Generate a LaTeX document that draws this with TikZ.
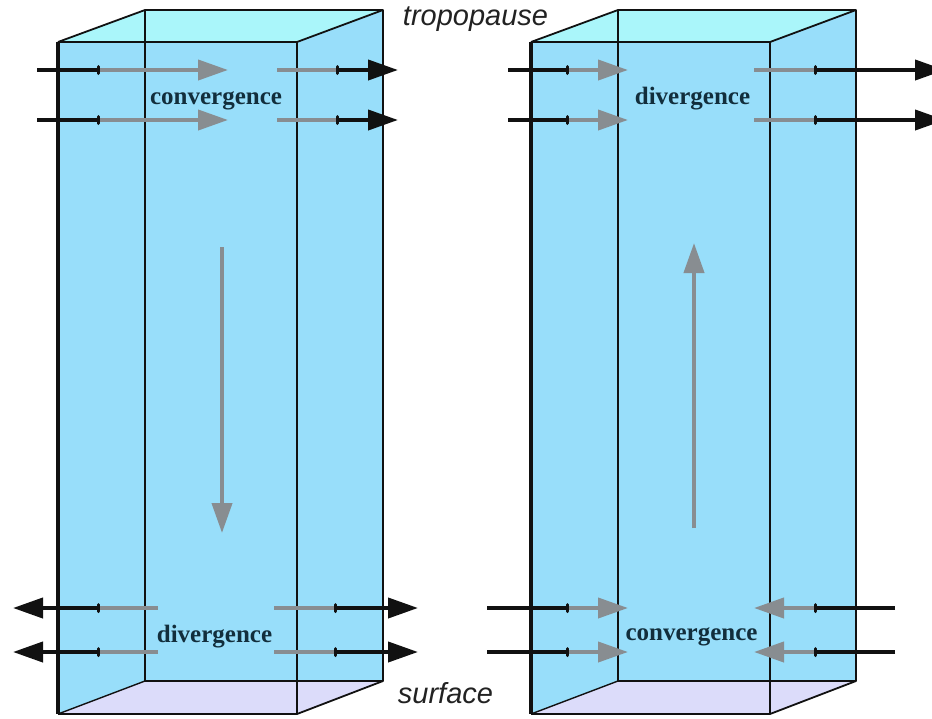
\documentclass[tikz,border=0pt]{standalone}
\usepackage{fontspec}
\setmainfont{Liberation Serif}
\setsansfont{Liberation Sans}
\usetikzlibrary{arrows.meta}
\definecolor{boxblue}{RGB}{152,222,250}
\definecolor{topcyan}{RGB}{170,246,250}
\definecolor{botlav}{RGB}{220,220,250}
\definecolor{flowgray}{RGB}{136,141,145}
\definecolor{flowblack}{RGB}{17,17,17}
\definecolor{labelcol}{RGB}{18,46,60}
\definecolor{italcol}{RGB}{34,34,34}
\tikzset{
  edgefront/.style={draw=flowblack, line width=1.8pt, line join=round},
  edgeback/.style={draw=flowblack, line width=1.4pt},
  edgethick/.style={draw=flowblack, line width=3.2pt},
  blk/.style={draw=flowblack, line width=4pt},
  gry/.style={draw=flowgray, line width=4pt},
  blkhead/.style={-{Triangle[length=30pt,width=20pt]}},
  tickmark/.style={draw=flowblack, line width=3pt, line cap=round},
  lbl/.style={font=\fontsize{25}{30}\selectfont\bfseries, text=labelcol, inner sep=0pt, anchor=base},
  itl/.style={font=\sffamily\itshape\fontsize{29}{34}\selectfont, text=italcol, inner sep=0pt, anchor=base},
  pics/column/.style={code={
    \fill[boxblue] (0,42) -- (87,10) -- (325,10) -- (325,681) -- (239,714) -- (0,714) -- cycle;
    \fill[topcyan] (0,42) -- (87,10) -- (325,10) -- (239,42) -- cycle;
    \fill[botlav] (0,714) -- (87,681) -- (325,681) -- (239,714) -- cycle;
    \draw[edgeback] (87,10) -- (87,681) -- (325,681);
    \draw[edgeback] (0,714) -- (87,681);
    \draw[edgefront] (0,42) -- (87,10) -- (325,10) -- (325,681) -- (239,714);
    \draw[edgefront] (239,42) -- (325,10);
    \draw[edgefront] (0,42) -- (239,42) -- (239,714) -- (0,714);
    \draw[edgethick] (0,42) -- (0,714);
  }}
}
\begin{document}
\begin{tikzpicture}[x=1pt, y=-1pt]
\useasboundingbox (0,0) rectangle (932,718);
% boxes
\pic at (58,0) {column};
\pic at (531,0) {column};

% ---------- left column: top convergence ----------
\foreach \yy/\nm in {70/a,120/b} {
  \coordinate (L\nm1) at (37,\yy);
  \coordinate (L\nm2) at (98,\yy);
  \coordinate (L\nm3) at (228,\yy);
  \coordinate (L\nm4) at (277,\yy);
  \coordinate (L\nm5) at (337,\yy);
  \coordinate (L\nm6) at (398,\yy);
  \draw[blk] (L\nm1) -- (L\nm2);
  \draw[gry, -{Triangle[length=30pt,width=20pt]}] (L\nm2) -- (L\nm3);
  \draw[gry] (L\nm4) -- (L\nm5);
  \draw[blk, blkhead] (L\nm5) -- (L\nm6);
  \draw[tickmark] ([yshift=3.5pt]L\nm2) -- ([yshift=-3.5pt]L\nm2);
  \draw[tickmark] ([yshift=3.5pt]L\nm5) -- ([yshift=-3.5pt]L\nm5);
}
\node[lbl] (lconv) at (216,104) {convergence};

% ---------- left column: bottom divergence ----------
\foreach \yy/\nm in {608/c,652/d} {
  \coordinate (L\nm1) at (13,\yy);
  \coordinate (L\nm2) at (98,\yy);
  \coordinate (L\nm3) at (158,\yy);
  \coordinate (L\nm4) at (274,\yy);
  \coordinate (L\nm5) at (335,\yy);
  \coordinate (L\nm6) at (418,\yy);
  \draw[blk, blkhead] (L\nm2) -- (L\nm1);
  \draw[gry] (L\nm2) -- (L\nm3);
  \draw[gry] (L\nm4) -- (L\nm5);
  \draw[blk, blkhead] (L\nm5) -- (L\nm6);
  \draw[tickmark] ([yshift=3.5pt]L\nm2) -- ([yshift=-3.5pt]L\nm2);
  \draw[tickmark] ([yshift=3.5pt]L\nm5) -- ([yshift=-3.5pt]L\nm5);
}
\node[lbl] (ldiv) at (214.5,642) {divergence};

% left vertical (sinking)
\coordinate (lvs) at (222,247);
\coordinate (lve) at (222,533);
\draw[gry, -{Triangle[length=30pt,width=20pt]}] (lvs) -- (lve);

% ---------- right column: top divergence ----------
\foreach \yy/\nm in {70/a,120/b} {
  \coordinate (R\nm1) at (508,\yy);
  \coordinate (R\nm2) at (567,\yy);
  \coordinate (R\nm3) at (628,\yy);
  \coordinate (R\nm4) at (754,\yy);
  \coordinate (R\nm5) at (815,\yy);
  \coordinate (R\nm6) at (945,\yy);
  \draw[blk] (R\nm1) -- (R\nm2);
  \draw[gry, -{Triangle[length=30pt,width=20pt]}] (R\nm2) -- (R\nm3);
  \draw[gry] (R\nm4) -- (R\nm5);
  \draw[blk, blkhead] (R\nm5) -- (R\nm6);
  \draw[tickmark] ([yshift=3.5pt]R\nm2) -- ([yshift=-3.5pt]R\nm2);
  \draw[tickmark] ([yshift=3.5pt]R\nm5) -- ([yshift=-3.5pt]R\nm5);
}
\node[lbl] (rdiv) at (692.5,104) {divergence};

% ---------- right column: bottom convergence ----------
\foreach \yy/\nm in {608/c,652/d} {
  \coordinate (R\nm1) at (487,\yy);
  \coordinate (R\nm2) at (567,\yy);
  \coordinate (R\nm3) at (628,\yy);
  \coordinate (R\nm4) at (754,\yy);
  \coordinate (R\nm5) at (815,\yy);
  \coordinate (R\nm6) at (895,\yy);
  \draw[blk] (R\nm1) -- (R\nm2);
  \draw[gry, -{Triangle[length=30pt,width=20pt]}] (R\nm2) -- (R\nm3);
  \draw[gry, -{Triangle[length=30pt,width=20pt]}] (R\nm5) -- (R\nm4);
  \draw[blk] (R\nm6) -- (R\nm5);
  \draw[tickmark] ([yshift=3.5pt]R\nm2) -- ([yshift=-3.5pt]R\nm2);
  \draw[tickmark] ([yshift=3.5pt]R\nm5) -- ([yshift=-3.5pt]R\nm5);
}
\node[lbl] (rconv) at (691.5,640) {convergence};

% right vertical (rising)
\coordinate (rvs) at (694,528);
\coordinate (rve) at (694,243);
\draw[gry, -{Triangle[length=30pt,width=20pt]}] (rvs) -- (rve);

% level labels
\node[itl] (tropo) at (475.5,25) {tropopause};
\node[itl] (surf) at (445.5,703) {surface};
\end{tikzpicture}
\end{document}
